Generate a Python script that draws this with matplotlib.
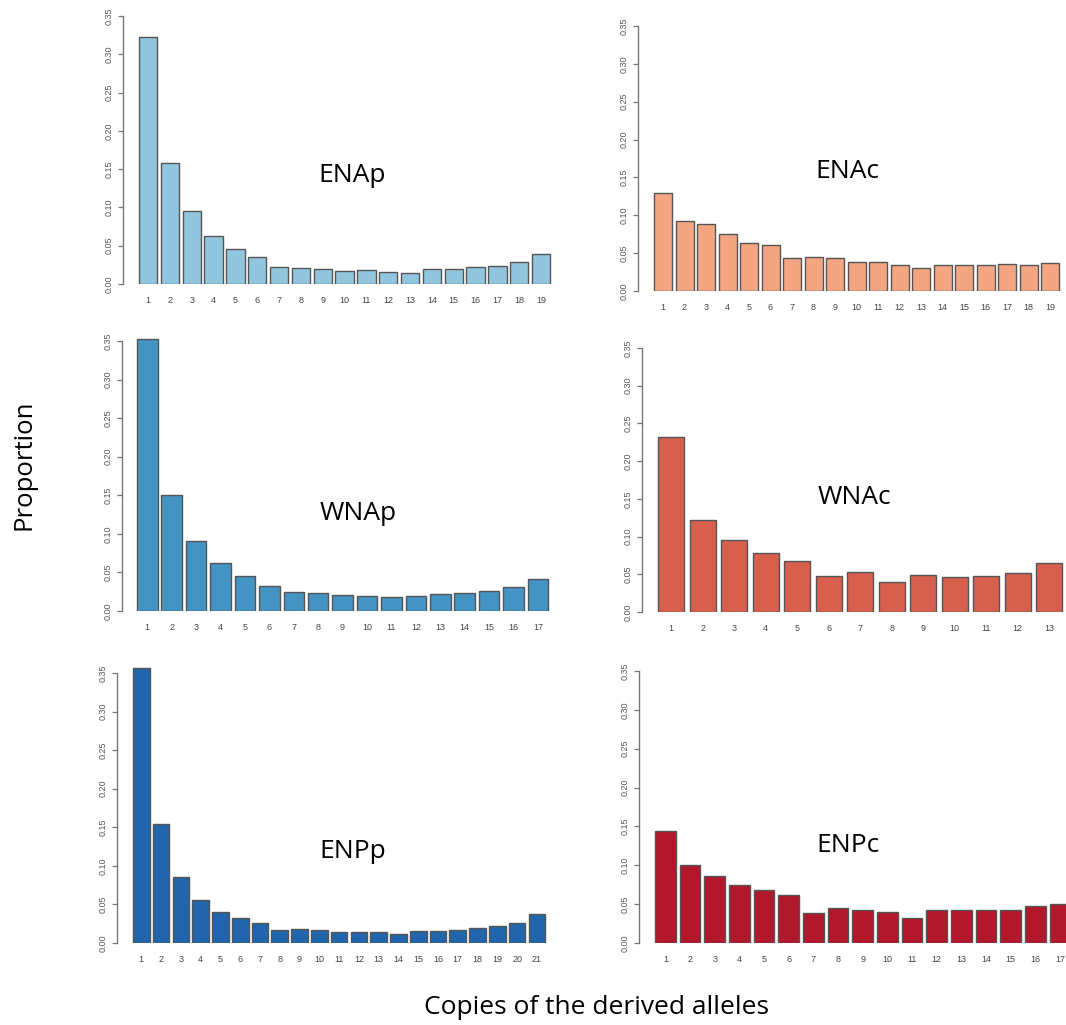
import numpy as np
import matplotlib.pyplot as plt

W, H = 1066, 1025

# proportion of sites by number of derived allele copies
ena_p = [0.322, 0.158, 0.095, 0.063, 0.046, 0.035, 0.022, 0.021, 0.020, 0.017,
         0.018, 0.016, 0.014, 0.019, 0.020, 0.022, 0.024, 0.029, 0.039]
ena_c = [0.129, 0.092, 0.089, 0.075, 0.064, 0.061, 0.044, 0.045, 0.044, 0.038,
         0.038, 0.035, 0.031, 0.035, 0.034, 0.035, 0.036, 0.034, 0.037]
wna_p = [0.353, 0.150, 0.091, 0.062, 0.045, 0.032, 0.025, 0.023, 0.021, 0.020,
         0.018, 0.019, 0.022, 0.023, 0.026, 0.031, 0.042]
wna_c = [0.232, 0.122, 0.095, 0.078, 0.068, 0.048, 0.053, 0.040, 0.049, 0.046,
         0.048, 0.052, 0.065]
enp_p = [0.356, 0.154, 0.086, 0.056, 0.040, 0.032, 0.026, 0.017, 0.018, 0.017,
         0.014, 0.014, 0.014, 0.012, 0.015, 0.016, 0.017, 0.020, 0.022, 0.026,
         0.037]
enp_c = [0.144, 0.100, 0.086, 0.075, 0.068, 0.062, 0.039, 0.045, 0.043, 0.040,
         0.032, 0.043, 0.043, 0.042, 0.043, 0.048, 0.050]

y_ticks = [0.00, 0.05, 0.10, 0.15, 0.20, 0.25, 0.30, 0.35]

# name, values, fill, (axis x, first bar x, bar pitch, y of 0, y of 0.35) in px, label pos
panels = [
    ("ENAp", ena_p, "#92c5de", (123, 139, 21.83, 284, 16), (352, 175)),
    ("ENAc", ena_c, "#f4a582", (638, 654, 21.5, 291, 26), (847, 172)),
    ("WNAp", wna_p, "#4393c3", (122, 137, 24.42, 611, 341), (358, 513)),
    ("WNAc", wna_c, "#d6604d", (642, 658, 31.5, 612, 348), (854, 498)),
    ("ENPp", enp_p, "#2166ac", (117, 133, 19.78, 943, 673), (353, 852)),
    ("ENPc", enp_c, "#b2182b", (639, 655, 24.67, 943, 671), (848, 845)),
]

fig = plt.figure(figsize=(W / 100, H / 100), dpi=100)
fig.patch.set_facecolor("white")

bw = 0.84
ytop = 0.37
for name, vals, col, (xa, xb, pitch, y0, y35), (lx, ly) in panels:
    n = len(vals)
    x = np.arange(1, n + 1)
    x_lo = 1 - bw / 2 - (xb - xa) / pitch
    x_hi = n + bw / 2 + 3 / pitch
    ppy = (y0 - y35) / 0.35
    ax = fig.add_axes([xa / W, 1 - y0 / H, (x_hi - x_lo) * pitch / W, ytop * ppy / H])
    ax.bar(x, vals, width=bw, color=col, edgecolor="#555555", linewidth=1.0)
    ax.set_xlim(x_lo, x_hi)
    ax.set_ylim(0, ytop)
    for s in ("top", "right", "bottom"):
        ax.spines[s].set_visible(False)
    ax.spines["left"].set_bounds(0, 0.35)
    ax.spines["left"].set_color("#777777")
    ax.spines["left"].set_linewidth(1.0)
    ax.set_yticks(y_ticks)
    ax.set_yticklabels([f"{v:.2f}" for v in y_ticks], rotation=90, va="center",
                       fontsize=6.5, color="#555555", family="Liberation Sans")
    ax.tick_params(axis="y", length=3.5, width=0.9, color="#777777", pad=3)
    ax.set_xticks(x)
    ax.set_xticklabels([str(i) for i in x], fontsize=6.5, color="#444444",
                       family="Liberation Sans")
    ax.tick_params(axis="x", length=0, pad=8.5)
    ax.patch.set_alpha(0)
    fig.text(lx / W, 1 - ly / H, name, ha="center", va="center",
             fontsize=19, family="Open Sans", color="black")

fig.text(24 / W, 1 - 465 / H, "Proportion", rotation=90, ha="center", va="center",
         fontsize=18.5, family="Open Sans")
fig.text(597 / W, 1 - 1007 / H, "Copies of the derived alleles", ha="center",
         va="center", fontsize=19, family="Open Sans")

fig.savefig("out.png", dpi=100)
